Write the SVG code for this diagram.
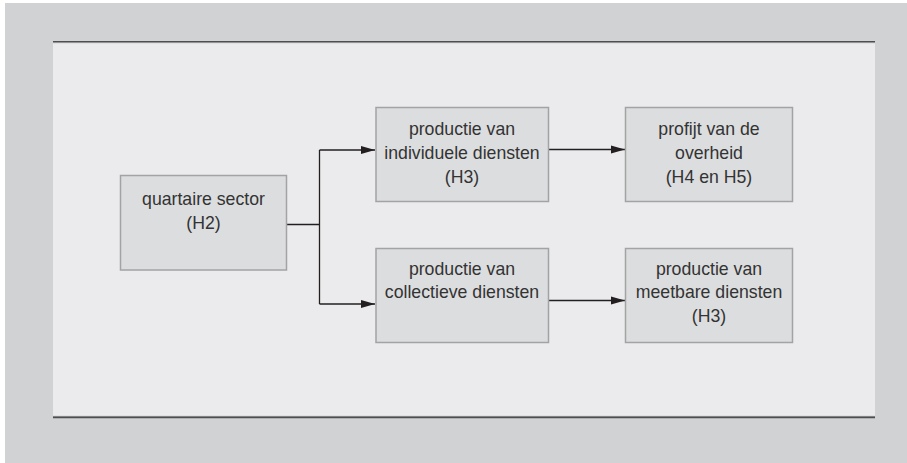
<svg xmlns="http://www.w3.org/2000/svg" width="907" height="463" viewBox="0 0 907 463">
<defs>
<marker id="ah" markerWidth="14" markerHeight="9" refX="14" refY="4.5" orient="auto" markerUnits="userSpaceOnUse">
<path d="M0,0.5 L14,4.5 L0,8.5 Z" fill="#231f20"/>
</marker>
</defs>
<style>
.box{fill:#dcdddf;stroke:#a2a3a5;stroke-width:1.5}
.t{font-family:"Liberation Sans",Arial,sans-serif;font-size:17.7px;fill:#333;text-anchor:middle}
.c{fill:none;stroke:#231f20;stroke-width:1.3}
</style>
<rect x="0" y="0" width="907" height="463" fill="#ffffff"/>
<rect x="5" y="3" width="902" height="460" fill="#d1d2d4"/>
<rect x="53" y="42" width="822" height="375" fill="#ebebed"/>
<line x1="53" y1="41.5" x2="875" y2="41.5" stroke="#4d4e50" stroke-width="1.2"/>
<line x1="53" y1="42.6" x2="875" y2="42.6" stroke="#8a8b8d" stroke-width="1"/>
<line x1="53" y1="416.4" x2="875" y2="416.4" stroke="#8a8b8d" stroke-width="1"/>
<line x1="53" y1="417.5" x2="875" y2="417.5" stroke="#4d4e50" stroke-width="1.4"/>
<g id="connectors">
<path class="c" d="M287,224.5 H319.5"/>
<path class="c" d="M319.5,150 V304"/>
<path class="c" d="M319.5,150 H375" marker-end="url(#ah)"/>
<path class="c" d="M319.5,304 H375" marker-end="url(#ah)"/>
<path class="c" d="M548.5,149.5 H625" marker-end="url(#ah)"/>
<path class="c" d="M548.5,300.5 H625" marker-end="url(#ah)"/>
</g>
<g id="n1">
<rect class="box" x="120.5" y="175.5" width="166" height="94.5"/>
<text class="t" x="203.5" y="204.5">quartaire sector</text>
<text class="t" x="203.5" y="228.5">(H2)</text>
</g>
<g id="n2">
<rect class="box" x="376" y="107.5" width="172.5" height="94"/>
<text class="t" x="462" y="135">productie van</text>
<text class="t" x="462" y="159">individuele diensten</text>
<text class="t" x="462" y="183">(H3)</text>
</g>
<g id="n3">
<rect class="box" x="625.5" y="107.5" width="167" height="94"/>
<text class="t" x="709" y="134.5">profijt van de</text>
<text class="t" x="709" y="158.5">overheid</text>
<text class="t" x="709" y="182.5">(H4 en H5)</text>
</g>
<g id="n4">
<rect class="box" x="376" y="248.5" width="172.5" height="94"/>
<text class="t" x="462" y="274.5">productie van</text>
<text class="t" x="462" y="298">collectieve diensten</text>
</g>
<g id="n5">
<rect class="box" x="625.5" y="248.5" width="167" height="94"/>
<text class="t" x="709" y="274.5">productie van</text>
<text class="t" x="709" y="298">meetbare diensten</text>
<text class="t" x="709" y="321.5">(H3)</text>
</g>
</svg>
